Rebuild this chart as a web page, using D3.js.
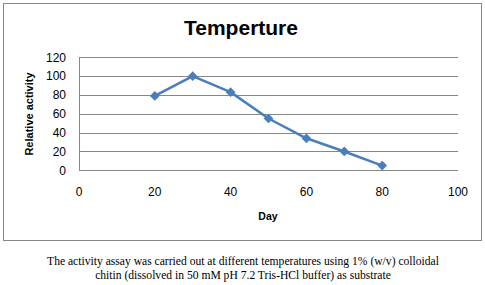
<!DOCTYPE html>
<html lang="en">
<head>
    <meta charset="UTF-8">
    <title>Temperture</title>
    <script src="https://d3js.org/d3.v7.min.js"></script>
    <style>
        body { margin: 0; background: #fff; }
        text { font-family: "Liberation Sans", Arial, sans-serif; }
    </style>
</head>
<body>
    <div id="chart-container"></div>
    <script>
        const temps = [20, 30, 40, 50, 60, 70, 80];
        const activity = [79, 100, 83, 55, 34, 20, 5];
        const xTicks = [0, 20, 40, 60, 80, 100];
        const yTicks = [0, 20, 40, 60, 80, 100, 120];

        const W = 485, H = 285;
        const plot = { left: 79, right: 458, top: 57.3, bottom: 170.3 };

        const svg = d3.select("#chart-container")
            .append("svg")
            .attr("width", W)
            .attr("height", H);

        // outer chart border
        svg.append("rect")
            .attr("x", 3.5).attr("y", 3.5)
            .attr("width", 478).attr("height", 237)
            .attr("fill", "#fff")
            .attr("stroke", "#878787");

        const x = d3.scaleLinear().domain([0, 100]).range([plot.left, plot.right]);
        const y = d3.scaleLinear().domain([0, 120]).range([plot.bottom, plot.top]);

        // gridlines
        svg.selectAll(".grid")
            .data(yTicks)
            .enter()
            .append("line")
            .attr("class", "grid")
            .attr("x1", plot.left).attr("x2", plot.right)
            .attr("y1", d => Math.round(y(d)) + 0.5)
            .attr("y2", d => Math.round(y(d)) + 0.5)
            .attr("stroke", "#868686");

        svg.append("line")
            .attr("x1", plot.left + 0.5).attr("x2", plot.left + 0.5)
            .attr("y1", Math.round(y(120)) + 0.5).attr("y2", Math.round(y(0)) + 0.5)
            .attr("stroke", "#868686");

        // y tick labels
        svg.selectAll(".ylab")
            .data(yTicks)
            .enter()
            .append("text")
            .attr("x", 66)
            .attr("y", d => y(d))
            .attr("dy", "0.36em")
            .attr("text-anchor", "end")
            .style("font-size", "12px")
            .text(d => d);

        // x tick labels
        svg.selectAll(".xlab")
            .data(xTicks)
            .enter()
            .append("text")
            .attr("x", d => x(d))
            .attr("y", 192)
            .attr("dy", "0.36em")
            .attr("text-anchor", "middle")
            .style("font-size", "12px")
            .text(d => d);

        // title
        svg.append("text")
            .attr("x", 241).attr("y", 35)
            .attr("text-anchor", "middle")
            .style("font-size", "21px")
            .style("font-weight", "bold")
            .text("Temperture");

        svg.append("text")
            .attr("x", 268).attr("y", 220)
            .attr("text-anchor", "middle")
            .style("font-size", "10.5px")
            .style("font-weight", "bold")
            .text("Day");

        svg.append("text")
            .attr("transform", `translate(33,114) rotate(-90)`)
            .attr("text-anchor", "middle")
            .style("font-size", "11px")
            .style("font-weight", "bold")
            .text("Relative activity");

        // series
        const pts = temps.map((t, i) => [t, activity[i]]);
        svg.append("path")
            .datum(pts)
            .attr("fill", "none")
            .attr("stroke", "#4a7ebb")
            .attr("stroke-width", 2.5)
            .attr("stroke-linejoin", "round")
            .attr("d", d3.line().x(d => x(d[0])).y(d => y(d[1])));

        svg.selectAll(".marker")
            .data(pts)
            .enter()
            .append("path")
            .attr("class", "marker")
            .attr("transform", d => `translate(${x(d[0])},${y(d[1])})`)
            .attr("d", d3.symbol().type(d3.symbolDiamond2).size(60))
            .attr("fill", "#4a7ebb");

        // caption
        const caption = [
            "The activity assay was carried out at different temperatures using 1% (w/v) colloidal",
            "chitin (dissolved in 50 mM pH 7.2 Tris-HCl buffer) as substrate"
        ];
        svg.selectAll(".cap")
            .data(caption)
            .enter()
            .append("text")
            .attr("x", 243)
            .attr("y", (d, i) => 265 + i * 14)
            .attr("text-anchor", "middle")
            .style("font-family", "'Liberation Serif', 'Times New Roman', serif")
            .style("font-size", "11.6px")
            .text(d => d);
    </script>
</body>
</html>
